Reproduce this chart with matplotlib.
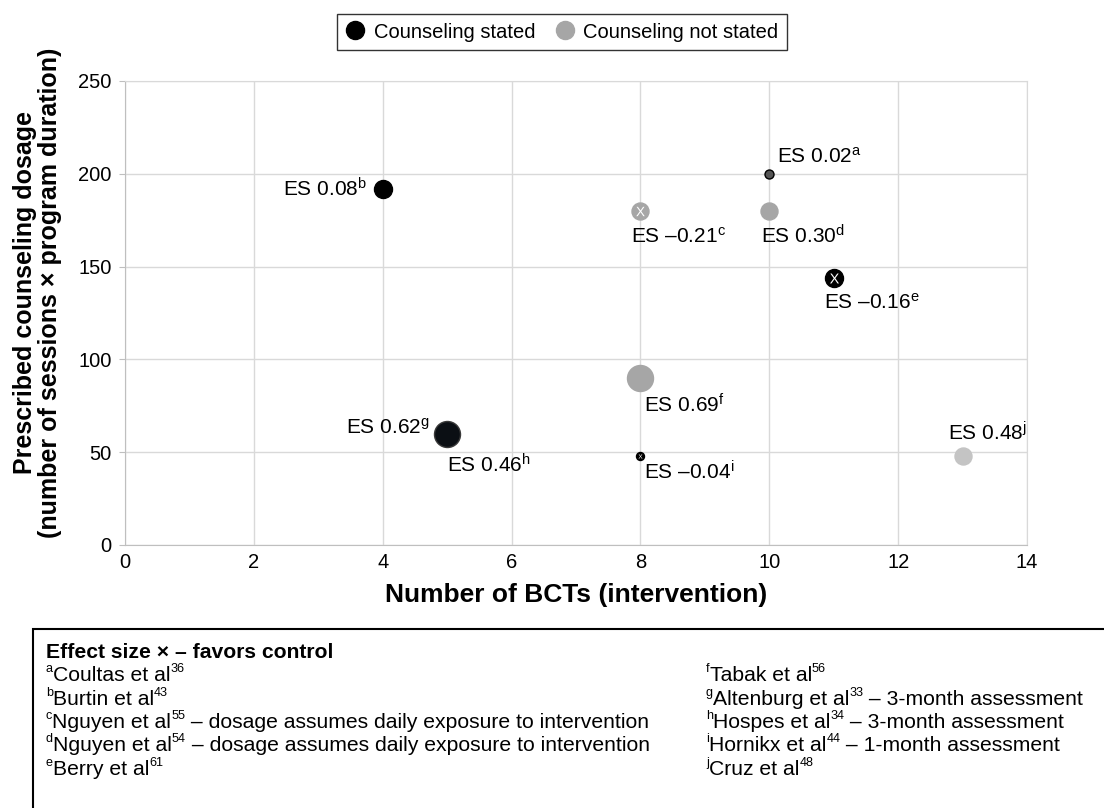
import matplotlib
matplotlib.use('Agg')
import matplotlib.pyplot as plt
from matplotlib.lines import Line2D
from matplotlib.patches import Rectangle

plt.rcParams['font.family'] = ['Liberation Sans', 'DejaVu Sans']
plt.rcParams['mathtext.fontset'] = 'custom'
plt.rcParams['mathtext.rm'] = 'Liberation Sans'
plt.rcParams['mathtext.it'] = 'Liberation Sans:italic'
plt.rcParams['mathtext.bf'] = 'Liberation Sans:bold'

# study data
refs = ['a', 'b', 'c', 'd', 'e', 'f', 'g', 'h', 'i', 'j']
n_bcts = [10, 4, 8, 10, 11, 8, 5, 5, 8, 13]
dosage = [200, 192, 180, 180, 144, 90, 60, 60, 48, 48]
es_text = ['0.02', '0.08', '\u20130.21', '0.30', '\u20130.16', '0.69', '0.62', '0.46', '\u20130.04', '0.48']
favors_control = [False, False, True, False, True, False, False, False, True, False]

# footnotes: (reference letter, author, citation number, remark)
footnote_title = 'Effect size \u00d7 \u2013 favors control'
authors = ['Coultas et al', 'Burtin et al', 'Nguyen et al', 'Nguyen et al', 'Berry et al',
           'Tabak et al', 'Altenburg et al', 'Hospes et al', 'Hornikx et al', 'Cruz et al']
cite_nums = ['36', '43', '55', '54', '61', '56', '33', '34', '44', '48']
remarks = ['', '', ' \u2013 dosage assumes daily exposure to intervention',
           ' \u2013 dosage assumes daily exposure to intervention', '',
           '', ' \u2013 3-month assessment', ' \u2013 3-month assessment', ' \u2013 1-month assessment', '']

# marker look per point (diameter in px, fill, edge)
diam_px = [9, 18, 17, 17, 18, 26, 24, 26, 8, 17]
fills = ['#555555', '#000000', '#a6a6a6', '#a6a6a6', '#000000', '#a6a6a6', '#000000', '#0b0f14', '#000000', '#c4c4c4']
edges = ['#000000', '#000000', '#a6a6a6', '#a6a6a6', '#000000', '#a6a6a6', '#000000', '#3a3a3a', '#000000', '#c4c4c4']
# label offsets in points and alignment
offsets = [(5.8, 12.2), (-11.5, 0), (-6.5, -18.7), (-5.8, -18), (-7.2, -18),
           (2.2, -19.4), (-12.2, 4.3), (0, -22.3), (2.2, -11.5), (-10.8, 16.6)]
aligns = ['left', 'right', 'left', 'left', 'left', 'left', 'right', 'left', 'left', 'left']

W, H = 1104, 808
fig = plt.figure(figsize=(W / 100, H / 100), dpi=100)
ax = fig.add_axes([0.1132, 0.3255, 0.8171, 0.5743])

for k in range(len(refs)):
    d = diam_px[k] * 0.72
    ax.scatter(n_bcts[k], dosage[k], s=d ** 2, c=fills[k], edgecolors=edges[k],
               linewidths=1.0, zorder=3, clip_on=False)
    if favors_control[k]:
        ax.scatter(n_bcts[k], dosage[k], s=(d * 0.55) ** 2, marker=r'$\mathrm{X}$', c='white',
                   linewidths=0, zorder=4, clip_on=False)
    ax.annotate('ES ' + es_text[k] + r'$^{\mathrm{' + refs[k] + '}}$',
                (n_bcts[k], dosage[k]), xytext=offsets[k], textcoords='offset points',
                ha=aligns[k], va='center', fontsize=15, zorder=5)

ax.set_xlim(0, 14)
ax.set_ylim(0, 250)
ax.set_xticks(range(0, 15, 2))
ax.set_yticks(range(0, 251, 50))
ax.grid(True, color='#d9d9d9', linewidth=1.0)
ax.set_axisbelow(True)
for s in ax.spines.values():
    s.set_color('#d9d9d9')
ax.spines['left'].set_color('#bfbfbf')
ax.spines['bottom'].set_color('#bfbfbf')
ax.tick_params(axis='y', length=4, color='#bfbfbf', labelsize=14.5, pad=5.5)
ax.tick_params(axis='x', length=0, labelsize=14.5, pad=6)

ax.set_xlabel('Number of BCTs (intervention)', fontsize=19, fontweight='bold', labelpad=8)
fig.text(0.034, 1 - 293 / H,
         'Prescribed counseling dosage\n(number of sessions \u00d7 program duration)',
         rotation=90, ha='center', va='center', multialignment='center',
         fontsize=18, fontweight='bold', linespacing=1.05)

handles = [Line2D([], [], marker='o', linestyle='none', markersize=13, markerfacecolor='#000000',
                  markeredgecolor='#000000'),
           Line2D([], [], marker='o', linestyle='none', markersize=13, markerfacecolor='#a6a6a6',
                  markeredgecolor='#a6a6a6')]
leg = fig.legend(handles, ['Counseling stated', 'Counseling not stated'], loc='center',
                 bbox_to_anchor=(562 / W, 1 - 32 / H), ncol=2, fontsize=14.5, frameon=True,
                 fancybox=False, edgecolor='#000000', handletextpad=0.4, columnspacing=1.0,
                 borderpad=0.4, handlelength=1.0, borderaxespad=0)
leg.get_frame().set_linewidth(1.0)

# footnote box
fig.add_artist(Rectangle((33 / W, -0.1), 1.2, 0.1 + (H - 629) / H, transform=fig.transFigure,
                         fill=False, edgecolor='#000000', linewidth=1.5, clip_on=False))
fn_size = 15.2
fig.text(46 / W, 1 - 658 / H, footnote_title, fontsize=fn_size, fontweight='bold', va='baseline')

renderer = fig.canvas.get_renderer()


def footnote_line(x_px, base_px, pieces):
    # pieces: list of (text, superscript?) drawn one after another
    for txt, sup in pieces:
        if txt == '':
            continue
        size = fn_size * 0.6 if sup else fn_size
        rise = fn_size * 0.42 * 100 / 72 if sup else 0
        t = fig.text(x_px / W, 1 - (base_px - rise) / H, txt, fontsize=size, va='baseline')
        x_px = t.get_window_extent(renderer).x1


base_rows = [681, 705, 728, 751, 775]
for k in range(10):
    col_x = 46 if k < 5 else 706
    footnote_line(col_x, base_rows[k % 5],
                  [(refs[k], True), (authors[k], False), (cite_nums[k], True), (remarks[k], False)])

fig.savefig('out.png', dpi=100)
